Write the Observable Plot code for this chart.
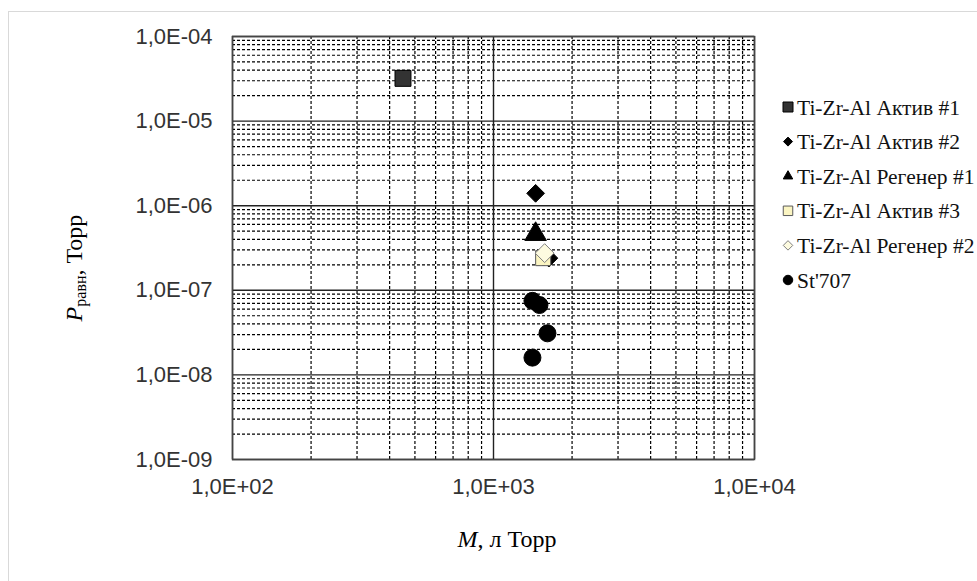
<!DOCTYPE html>
<html>
<head>
<meta charset="utf-8">
<script src="https://cdn.jsdelivr.net/npm/d3@7"></script>
<script src="https://cdn.jsdelivr.net/npm/@observablehq/plot@0.6"></script>
<style>
  html, body { margin: 0; padding: 0; background: #fff; }
  #wrap { position: relative; width: 977px; height: 581px; overflow: hidden; }
  #border { position: absolute; left: 8px; top: 11px; width: 1000px; height: 600px;
            border-left: 1px solid #d9d9d9; border-top: 1px solid #d9d9d9; }
  #chart { position: absolute; left: 0; top: 0; }
</style>
</head>
<body>
<div id="wrap">
  <div id="border"></div>
  <div id="chart"></div>
</div>
<script>
// ---- data ----
const seriesNames = ["Ti-Zr-Al Актив #1", "Ti-Zr-Al Актив #2", "Ti-Zr-Al Регенер #1",
                     "Ti-Zr-Al Актив #3", "Ti-Zr-Al Регенер #2", "St'707"];
const aktiv1M = [450];            const aktiv1P = [3.2e-5];
const aktiv2M = [1450, 1630];     const aktiv2P = [1.4e-6, 2.4e-7];
const regener1M = [1450];         const regener1P = [4.6e-7];
const aktiv3M = [1550];           const aktiv3P = [2.4e-7];
const regener2M = [1570];         const regener2P = [2.75e-7];
const st707M = [1410, 1500, 1610, 1410];
const st707P = [7.5e-8, 6.7e-8, 3.1e-8, 1.6e-8];

const xDecades = [1e2, 1e3, 1e4];
const yDecades = [1e-9, 1e-8, 1e-7, 1e-6, 1e-5, 1e-4];
const minorMultipliers = [2, 3, 4, 5, 6, 7, 8, 9];

// ---- styles per series ----
const styles = [
  {symbol: "square",   r: 9,   fill: "#333333", stroke: "#000"},
  {symbol: "diamond2", r: 8,   fill: "#000",    stroke: "#000"},
  {symbol: "triangle", r: 8,   fill: "#000",    stroke: "#000"},
  {symbol: "square",   r: 8.5, fill: "#fbf5c2", stroke: "#595959"},
  {symbol: "diamond2", r: 8.5, fill: "#fdfbe0", stroke: "#7f7f7f"},
  {symbol: "circle",   r: 8.5, fill: "#000",    stroke: "#000"}
];
const seriesM = [aktiv1M, aktiv2M, regener1M, aktiv3M, regener2M, st707M];
const seriesP = [aktiv1P, aktiv2P, regener1P, aktiv3P, regener2P, st707P];

const minor = decs => decs.slice(0, -1).flatMap(d => minorMultipliers.map(m => m * d));
const xMinor = minor(xDecades);
const yMinor = minor(yDecades);

const fmt = d => {
  const e = Math.round(Math.log10(d));
  return "1,0E" + (e < 0 ? "-" : "+") + String(Math.abs(e)).padStart(2, "0");
};

const dotMarks = seriesNames.map((name, i) => {
  const data = seriesM[i].map((m, j) => ({M: m, P: seriesP[i][j]}));
  const s = styles[i];
  return Plot.dot(data, {x: "M", y: "P", symbol: () => s.symbol, r: s.r,
    fill: s.fill, stroke: s.stroke, strokeWidth: 1});
});

const chart = Plot.plot({
  width: 977, height: 581,
  marginLeft: 232, marginRight: 223, marginTop: 36, marginBottom: 122,
  x: {type: "log", domain: [1e2, 1e4]},
  y: {type: "log", domain: [1e-9, 1e-4]},
  symbol: {type: "identity"},
  style: {background: "transparent", fontFamily: "'Liberation Sans', Arial, sans-serif"},
  marks: [
    Plot.ruleX(xMinor, {stroke: "#000", strokeWidth: 1.2, strokeDasharray: "3,2"}),
    Plot.ruleY(yMinor, {stroke: "#000", strokeWidth: 1.2, strokeDasharray: "3,2"}),
    Plot.ruleX(xDecades, {stroke: "#222", strokeWidth: 1.4}),
    Plot.ruleY(yDecades, {stroke: "#222", strokeWidth: 1.4}),
    Plot.frame({stroke: "#444", strokeWidth: 1.5}),
    Plot.axisX({ticks: xDecades, tickFormat: fmt, tickSize: 0, tickPadding: 19, fontSize: 22, color: "#333", label: null}),
    Plot.axisY({ticks: yDecades, tickFormat: fmt, tickSize: 0, tickPadding: 20, fontSize: 22, color: "#333", label: null}),
    ...dotMarks
  ]
});
document.getElementById("chart").appendChild(chart);

// axis titles
const svg = d3.select(chart);
const serif = "Liberation Serif";
const xt = svg.append("text").attr("x", 507).attr("y", 547).attr("text-anchor", "middle")
  .style("font-family", serif).attr("font-size", 24).attr("fill", "#000");
xt.append("tspan").attr("font-style", "italic").text("M");
xt.append("tspan").text(", л Торр");

const yt = svg.append("text").attr("transform", "translate(82,268) rotate(-90)").attr("text-anchor", "middle")
  .style("font-family", serif).attr("font-size", 24).attr("fill", "#000");
yt.append("tspan").attr("font-style", "italic").text("P");
yt.append("tspan").attr("font-size", 16).attr("dy", 4).text("равн");
yt.append("tspan").attr("dy", -4).text(", Торр");

// legend (SVG)
const symMap = {square: d3.symbolSquare, diamond2: d3.symbolDiamond2, triangle: d3.symbolTriangle2, circle: d3.symbolCircle};
const legendSizes = [10, 9, 9.5, 9.5, 9.5, 9.5];
const lg = svg.append("g").attr("text-anchor", "start");
seriesNames.forEach((name, i) => {
  const s = styles[i];
  const cy = 107 + i * 34.6;
  const sz = legendSizes[i];
  let area;
  if (s.symbol === "square") area = sz * sz;
  else if (s.symbol === "diamond2") area = Math.pow(sz / 2 / 0.62625, 2);
  else if (s.symbol === "triangle") area = Math.pow(sz / 1.732 / 0.6824, 2);
  else area = Math.PI * (sz / 2) * (sz / 2);
  lg.append("path").attr("transform", `translate(788,${cy})`)
    .attr("d", d3.symbol(symMap[s.symbol], area)())
    .attr("fill", s.fill).attr("stroke", s.stroke).attr("stroke-width", 1);
  lg.append("text").attr("x", 797).attr("y", cy + 7.5).attr("text-anchor", "start")
    .style("font-family", serif).attr("font-size", 21.5).attr("fill", "#111").text(name);
});
</script>
</body>
</html>
